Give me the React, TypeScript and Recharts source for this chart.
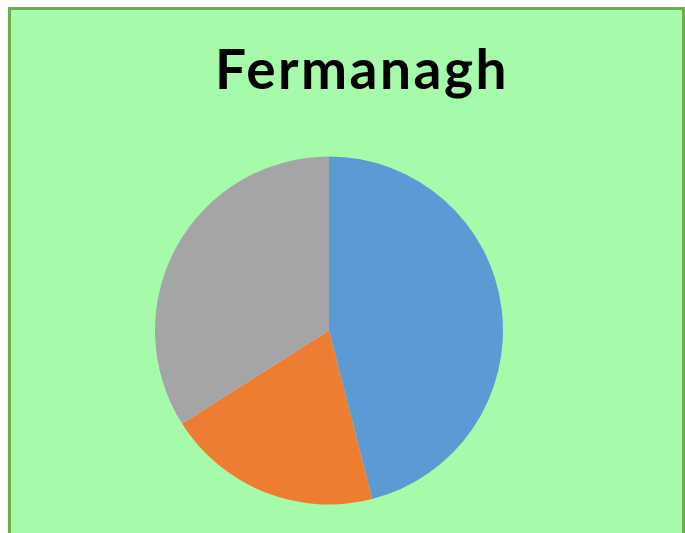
import React from 'react';
import { PieChart, Pie, Cell } from 'recharts';

const categories = ['A', 'B', 'C'];
const values = [46, 20, 34];
const colors = ['#5b9bd5', '#ed7d31', '#a5a5a5'];

const data = categories.map((name, i) => ({ name, value: values[i] }));

export default function App() {
    return (
        <div style={{ position: 'fixed', left: 0, top: 0, width: 685, height: 533, overflow: 'hidden', background: '#fff' }}>
            <div
                style={{
                    position: 'absolute',
                    left: 8,
                    top: 7,
                    width: 677,
                    height: 540,
                    boxSizing: 'border-box',
                    background: '#a6fbab',
                    borderTop: '3px solid #70ad47',
                    borderLeft: '3px solid #70ad47',
                    borderRight: '3px solid #70ad47',
                }}
            />
            <div
                style={{
                    position: 'absolute',
                    left: 62,
                    top: 41,
                    width: 600,
                    textAlign: 'center',
                    fontFamily: 'Lato, sans-serif',
                    fontWeight: 700,
                    fontSize: 55,
                    letterSpacing: 2.5,
                    lineHeight: 1,
                    color: '#000',
                }}
            >
                Fermanagh
            </div>
            <div style={{ position: 'absolute', left: 8, top: 8 }}>
                <PieChart width={677} height={525}>
                    <Pie
                        data={data}
                        dataKey="value"
                        nameKey="name"
                        cx={316}
                        cy={317.5}
                        outerRadius={174}
                        startAngle={90}
                        endAngle={-270}
                        stroke="none"
                        isAnimationActive={false}
                    >
                        {data.map((d, i) => (
                            <Cell key={d.name} fill={colors[i]} />
                        ))}
                    </Pie>
                </PieChart>
            </div>
        </div>
    );
}
